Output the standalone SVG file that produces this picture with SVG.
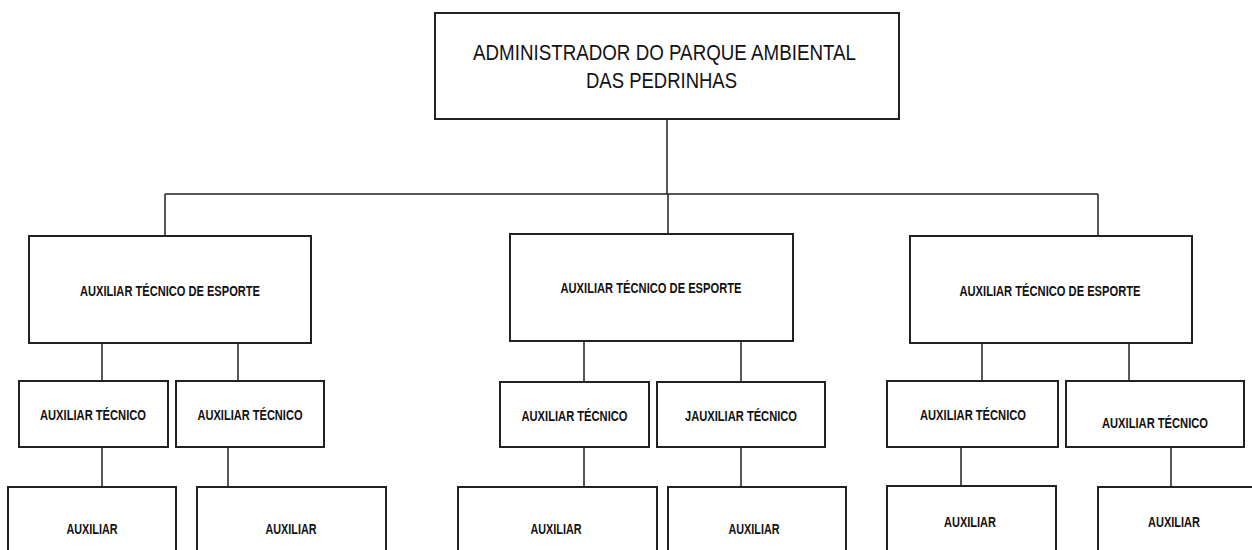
<svg xmlns="http://www.w3.org/2000/svg" width="1252" height="550" viewBox="0 0 1252 550">
<style>
.box{fill:#fff;stroke:#222;stroke-width:2}
.ln{fill:none;stroke:#222;stroke-width:1.5}
.t{font-family:"Liberation Sans",Arial,sans-serif;font-weight:bold;font-size:14px;fill:#111;text-anchor:middle}
.h{font-family:"Liberation Sans",Arial,sans-serif;font-size:22px;fill:#111;text-anchor:middle}
</style>
<rect width="1252" height="550" fill="#fff"/>
<g id="connectors">
<path class="ln" d="M667 119V194M165 194H1098M165 194V236M668 194V234M1098 194V236"/>
<path class="ln" d="M102 343V381M238 343V381M102 447V487M228 447V487"/>
<path class="ln" d="M584 341V382M741 341V382M584 447V487M741 447V487"/>
<path class="ln" d="M982 343V381M1129 343V381M961 447V486M1171 447V487"/>
</g>
<g id="admin">
<rect class="box" x="435" y="13" width="464" height="106"/>
<text class="h" x="664.5" y="60" textLength="383" lengthAdjust="spacingAndGlyphs">ADMINISTRADOR DO PARQUE AMBIENTAL</text>
<text class="h" x="661.5" y="88" textLength="151" lengthAdjust="spacingAndGlyphs">DAS PEDRINHAS</text>
</g>
<g id="ate1">
<rect class="box" x="29" y="236" width="282" height="107"/>
<text class="t" x="170" y="296" textLength="180" lengthAdjust="spacingAndGlyphs">AUXILIAR TÉCNICO DE ESPORTE</text>
</g>
<g id="ate2">
<rect class="box" x="510" y="234" width="283" height="107"/>
<text class="t" x="651" y="293" textLength="181" lengthAdjust="spacingAndGlyphs">AUXILIAR TÉCNICO DE ESPORTE</text>
</g>
<g id="ate3">
<rect class="box" x="910" y="236" width="282" height="107"/>
<text class="t" x="1050" y="296" textLength="181" lengthAdjust="spacingAndGlyphs">AUXILIAR TÉCNICO DE ESPORTE</text>
</g>
<g id="at1a">
<rect class="box" x="19" y="381" width="149" height="66"/>
<text class="t" x="93" y="420" textLength="106" lengthAdjust="spacingAndGlyphs">AUXILIAR TÉCNICO</text>
</g>
<g id="at1b">
<rect class="box" x="176" y="381" width="148" height="66"/>
<text class="t" x="250" y="420" textLength="105" lengthAdjust="spacingAndGlyphs">AUXILIAR TÉCNICO</text>
</g>
<g id="at2a">
<rect class="box" x="500" y="382" width="149" height="65"/>
<text class="t" x="574.5" y="421" textLength="106" lengthAdjust="spacingAndGlyphs">AUXILIAR TÉCNICO</text>
</g>
<g id="at2b">
<rect class="box" x="657" y="382" width="168" height="65"/>
<text class="t" x="741" y="421" textLength="112" lengthAdjust="spacingAndGlyphs">JAUXILIAR TÉCNICO</text>
</g>
<g id="at3a">
<rect class="box" x="887" y="381" width="171" height="66"/>
<text class="t" x="973" y="420" textLength="106" lengthAdjust="spacingAndGlyphs">AUXILIAR TÉCNICO</text>
</g>
<g id="at3b">
<rect class="box" x="1066" y="381" width="178" height="66"/>
<text class="t" x="1155" y="428" textLength="106" lengthAdjust="spacingAndGlyphs">AUXILIAR TÉCNICO</text>
</g>
<g id="ax1a">
<rect class="box" x="8" y="487" width="168" height="80"/>
<text class="t" x="92" y="534" textLength="51" lengthAdjust="spacingAndGlyphs">AUXILIAR</text>
</g>
<g id="ax1b">
<rect class="box" x="197" y="487" width="189" height="80"/>
<text class="t" x="291" y="534" textLength="51" lengthAdjust="spacingAndGlyphs">AUXILIAR</text>
</g>
<g id="ax2a">
<rect class="box" x="458" y="487" width="199" height="80"/>
<text class="t" x="556" y="534" textLength="51" lengthAdjust="spacingAndGlyphs">AUXILIAR</text>
</g>
<g id="ax2b">
<rect class="box" x="668" y="487" width="178" height="80"/>
<text class="t" x="754" y="534" textLength="51" lengthAdjust="spacingAndGlyphs">AUXILIAR</text>
</g>
<g id="ax3a">
<rect class="box" x="887" y="486" width="169" height="80"/>
<text class="t" x="970" y="527" textLength="52" lengthAdjust="spacingAndGlyphs">AUXILIAR</text>
</g>
<g id="ax3b">
<rect class="box" x="1098" y="487" width="170" height="80"/>
<text class="t" x="1174" y="527" textLength="52" lengthAdjust="spacingAndGlyphs">AUXILIAR</text>
</g>
</svg>
